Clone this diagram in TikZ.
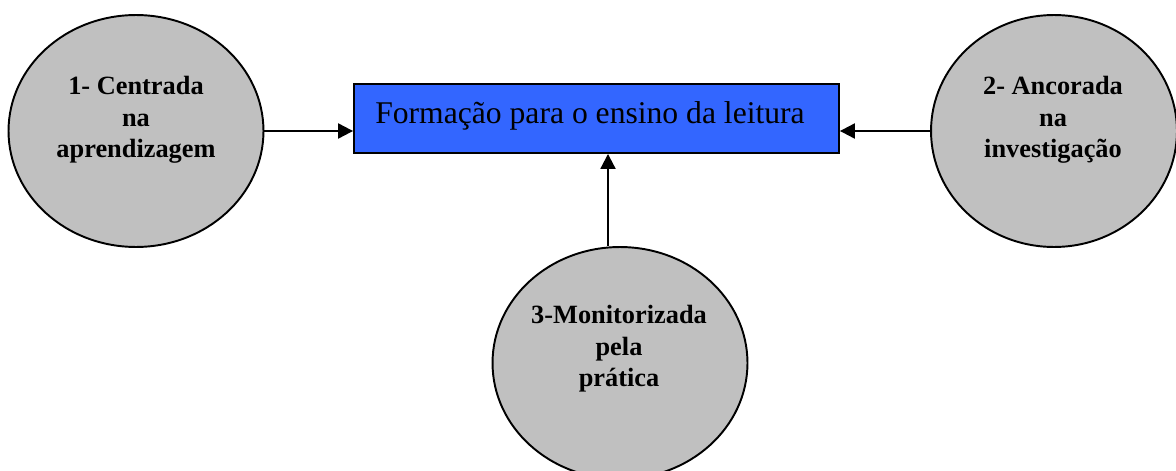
\documentclass[tikz,border=0pt]{standalone}
\usepackage{fontspec}
\setmainfont{Liberation Serif}
\usetikzlibrary{shapes.geometric,arrows.meta}
\definecolor{circgray}{RGB}{192,192,192}
\definecolor{boxblue}{RGB}{51,102,255}
\tikzset{
  bubble/.style={ellipse,draw,line width=1.1pt,fill=circgray,minimum width=5.1cm,minimum height=4.64cm},
  bubbletext/.style={align=center,font=\fontsize{15}{18}\selectfont\bfseries},
  link/.style={line width=1.2pt,-{Triangle[length=8.5pt,width=8.5pt]}}
}
\begin{document}
\begin{tikzpicture}[x=0.02cm,y=-0.02cm]
      \useasboundingbox (0,0) rectangle (1176,470);
      \node[draw,line width=1.1pt,fill=boxblue,minimum width=9.7cm,minimum height=1.38cm] (formacao) at (596.5,118.5) {};
      \node[font=\fontsize{18}{21}\selectfont] (formacaotxt) at (590,116) {Formação para o ensino da leitura};
      \node[bubble] (centrada) at (136,131) {};
      \node[bubble,minimum width=4.92cm] (ancorada) at (1054,131) {};
      \node[bubble] (monitor) at (620,363) {};
      \node[bubbletext] (centradatxt) at (136,120) {1- Centrada\\na\\aprendizagem};
      \node[bubbletext] (ancoradatxt) at (1053,120) {2- Ancorada\\na\\investigação};
      \node[bubbletext] (monitortxt) at (619,349) {3-Monitorizada\\pela\\prática};
      \draw[link] (centrada.east) -- (formacao.west |- centrada.east);
      \draw[link] (ancorada.west) -- (formacao.east |- ancorada.west);
      \draw[link] (monitor.north -| 608,0) -- (608,0 |- formacao.south);
\end{tikzpicture}
\end{document}
